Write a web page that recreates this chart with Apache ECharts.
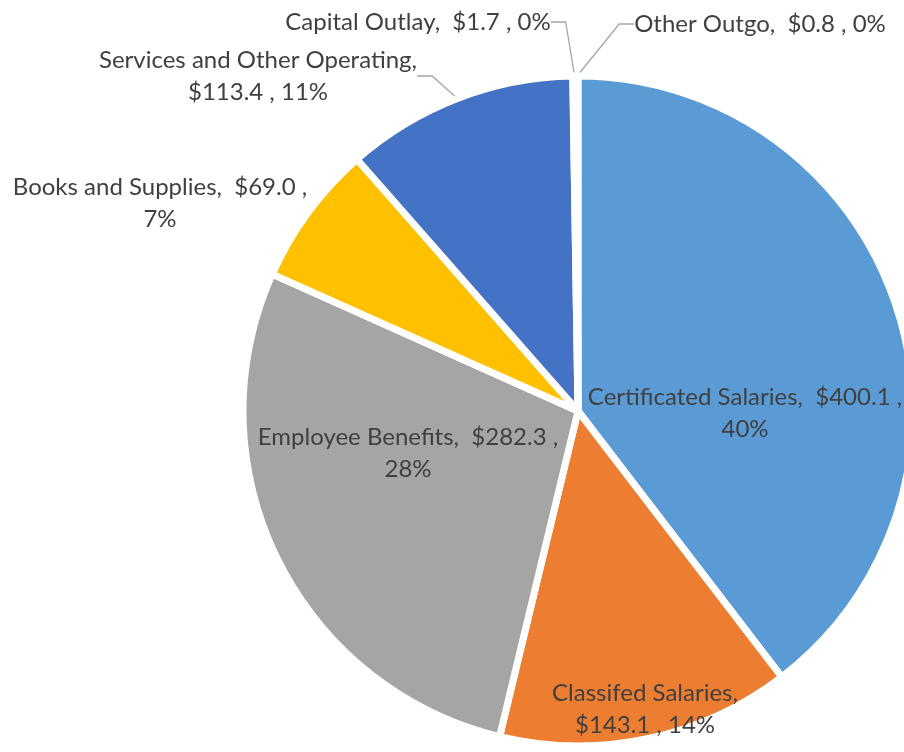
<!DOCTYPE html>
<html>
<head>
<meta charset="utf-8">
<script src="https://cdn.jsdelivr.net/npm/echarts@6/dist/echarts.min.js"></script>
<style>
  html, body { margin: 0; padding: 0; background: #fff; }
  #chart { width: 904px; height: 752px; }
</style>
</head>
<body>
<div id="chart"></div>
<script>
// 数据
const categories = ['Certificated Salaries', 'Classifed Salaries', 'Employee Benefits', 'Books and Supplies',
  'Services and Other Operating', 'Capital Outlay', 'Other Outgo']
const values = [400.1, 143.1, 282.3, 69.0, 113.4, 1.7, 0.8]
const colors = ['#5B9BD5', '#ED7D31', '#A5A5A5', '#FFC000', '#4472C4', '#70AD47', '#264478']
// where the label line breaks: 0 = no break, 1 = after name, 2 = after value
const breaks = [2, 1, 2, 2, 1, 0, 0]
const outside = [false, false, false, true, true, true, true]
// label centres
const labelPos = [[745, 413], [645, 709], [408, 453], [160, 203], [258, 76], [418, 22], [760, 24]]

const chart = echarts.init(document.getElementById('chart'))

const seriesData = categories.map((name, i) => ({
  name: name,
  value: values[i],
  itemStyle: { color: colors[i] },
  label: { position: outside[i] ? 'outside' : 'inside' },
  labelLine: { show: outside[i] && i !== 3 }
}))

const option = {
  animation: false,
  series: [{
    type: 'pie',
    center: [578, 411],
    radius: 335,
    startAngle: 90,
    clockwise: true,
    percentPrecision: 0,
    avoidLabelOverlap: false,
    // wide white gaps between slices
    itemStyle: { borderColor: '#fff', borderWidth: 7 },
    label: {
      color: '#404040',
      fontFamily: 'Lato',
      fontSize: 24,
      lineHeight: 32,
      align: 'center',
      formatter: function (p) {
        const v = '$' + p.value.toFixed(1)
        const b = breaks[p.dataIndex]
        if (b === 1) return p.name + ',\n' + v + ' , ' + p.percent + '%'
        if (b === 2) return p.name + ',  ' + v + ' ,\n' + p.percent + '%'
        return p.name + ',  ' + v + ' , ' + p.percent + '%'
      }
    },
    labelLine: {
      length: 20,
      length2: 15,
      lineStyle: { color: '#A6A6A6', width: 1.3 }
    },
    labelLayout: function (params) {
      const pos = labelPos[params.dataIndex]
      return { x: pos[0], y: pos[1], align: 'center', verticalAlign: 'middle' }
    },
    data: seriesData
  }]
}

chart.setOption(option)
</script>
</body>
</html>
